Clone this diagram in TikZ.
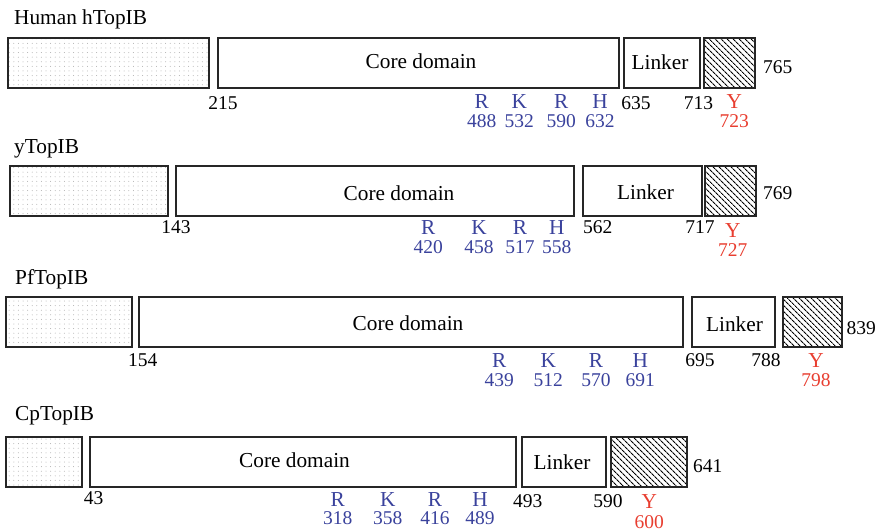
\documentclass[tikz,border=0pt]{standalone}
\usepackage{fontspec}
\setmainfont{Liberation Serif}
\usetikzlibrary{patterns.meta}
\definecolor{resblue}{RGB}{58,66,156}
\definecolor{resred}{RGB}{232,62,48}
\begin{document}
\begin{tikzpicture}[x=1pt,y=-1pt,
  every node/.style={font=\fontsize{19.5}{22}\selectfont},
  word/.style={font=\fontsize{21.3}{24}\selectfont},
  dom/.style={draw=black!85, line width=1.2pt, anchor=north west, inner sep=0pt, outer sep=0pt, minimum height=50pt},
  dotbox/.style={dom, pattern={Dots[radius=0.5pt,distance=4.6pt]}, pattern color=gray!65},
  corebox/.style={dom, fill=white},
  hatchbox/.style={dom, pattern={Lines[angle=-45,distance=4pt,line width=1.1pt]}},
  lbl/.style={anchor=base, inner sep=0pt},
  lblw/.style={anchor=base west, inner sep=0pt},
  res/.style={lbl, text=resblue},
  tyr/.style={lbl, text=resred}]
\useasboundingbox (0,0) rectangle (876,531);

% ---------- Row 1: Human hTopIB ----------
\node[lblw, word] (t1) at (14,24) {Human hTopIB};
\node[dotbox, minimum width=201pt] (d1) at (8,38) {};
\node[corebox, minimum width=401pt] (c1) at (218,38) {};
\node[corebox, minimum width=76pt] (l1) at (624,38) {};
\node[hatchbox, minimum width=51pt] (h1) at (704,38) {};
\node[lbl, word] (c1t) at (421,68) {Core domain};
\node[lbl, word] (l1t) at (660,69) {Linker};
\node[lblw] (e1) at (763,73) {765};
\node[lbl] (n1a) at (223,109) {215};
\node[lbl] (n1b) at (636,109) {635};
\node[lbl] (n1c) at (698.5,109) {713};
\node[res, word] (r1a) at (481.7,108) {R};
\node[res, word] (r1b) at (519.3,108) {K};
\node[res, word] (r1c) at (561.3,108) {R};
\node[res, word] (r1d) at (600,108) {H};
\node[res] (p1a) at (481.7,127) {488};
\node[res] (p1b) at (519.3,127) {532};
\node[res] (p1c) at (561.3,127) {590};
\node[res] (p1d) at (600,127) {632};
\node[tyr, word] (y1) at (734.3,108) {Y};
\node[tyr] (q1) at (734.3,127) {723};

% ---------- Row 2: yTopIB ----------
\node[lblw, word] (t2) at (14,153) {yTopIB};
\node[dotbox, minimum width=158pt] (d2) at (10,166) {};
\node[corebox, minimum width=398pt] (c2) at (176,166) {};
\node[corebox, minimum width=119pt] (l2) at (583,166) {};
\node[hatchbox, minimum width=51pt] (h2) at (705,166) {};
\node[lbl, word] (c2t) at (399,200) {Core domain};
\node[lbl, word] (l2t) at (645.5,199) {Linker};
\node[lblw] (e2) at (763,199) {769};
\node[lbl] (n2a) at (176,233) {143};
\node[lbl] (n2b) at (597.7,233) {562};
\node[lbl] (n2c) at (700,233) {717};
\node[res, word] (r2a) at (428.3,234) {R};
\node[res, word] (r2b) at (479,234) {K};
\node[res, word] (r2c) at (520,234) {R};
\node[res, word] (r2d) at (556.7,234) {H};
\node[res] (p2a) at (428.3,253) {420};
\node[res] (p2b) at (479,253) {458};
\node[res] (p2c) at (520,253) {517};
\node[res] (p2d) at (556.7,253) {558};
\node[tyr, word] (y2) at (732.7,237) {Y};
\node[tyr] (q2) at (732.7,256) {727};

% ---------- Row 3: PfTopIB ----------
\node[lblw, word] (t3) at (15,284) {PfTopIB};
\node[dotbox, minimum width=126pt] (d3) at (6,297) {};
\node[corebox, minimum width=544pt] (c3) at (139,297) {};
\node[corebox, minimum width=83pt] (l3) at (692,297) {};
\node[hatchbox, minimum width=59pt] (h3) at (783,297) {};
\node[lbl, word] (c3t) at (408,330) {Core domain};
\node[lbl, word] (l3t) at (734.5,331) {Linker};
\node[lblw] (e3) at (846.5,334) {839};
\node[lbl] (n3a) at (142.7,366) {154};
\node[lbl] (n3b) at (700,366) {695};
\node[lbl] (n3c) at (766,366) {788};
\node[res, word] (r3a) at (499.3,367) {R};
\node[res, word] (r3b) at (548.3,367) {K};
\node[res, word] (r3c) at (596,367) {R};
\node[res, word] (r3d) at (640.3,367) {H};
\node[res] (p3a) at (499.3,386) {439};
\node[res] (p3b) at (548.3,386) {512};
\node[res] (p3c) at (596,386) {570};
\node[res] (p3d) at (640.3,386) {691};
\node[tyr, word] (y3) at (816,367) {Y};
\node[tyr] (q3) at (816,386) {798};

% ---------- Row 4: CpTopIB ----------
\node[lblw, word] (t4) at (15,420) {CpTopIB};
\node[dotbox, minimum width=76pt] (d4) at (6,437) {};
\node[corebox, minimum width=426pt] (c4) at (90,437) {};
\node[corebox, minimum width=84pt] (l4) at (522,437) {};
\node[hatchbox, minimum width=76pt] (h4) at (611,437) {};
\node[lbl, word] (c4t) at (294.5,467) {Core domain};
\node[lbl, word] (l4t) at (562,469) {Linker};
\node[lblw] (e4) at (693,472) {641};
\node[lbl] (n4a) at (93.7,504) {43};
\node[lbl] (n4b) at (527.7,507) {493};
\node[lbl] (n4c) at (608,507) {590};
\node[res, word] (r4a) at (337.7,506) {R};
\node[res, word] (r4b) at (387.7,506) {K};
\node[res, word] (r4c) at (435,506) {R};
\node[res, word] (r4d) at (480,506) {H};
\node[res] (p4a) at (337.7,524) {318};
\node[res] (p4b) at (387.7,524) {358};
\node[res] (p4c) at (435,524) {416};
\node[res] (p4d) at (480,524) {489};
\node[tyr, word] (y4) at (649.3,508.5) {Y};
\node[tyr] (q4) at (649.3,528) {600};
\end{tikzpicture}
\end{document}
